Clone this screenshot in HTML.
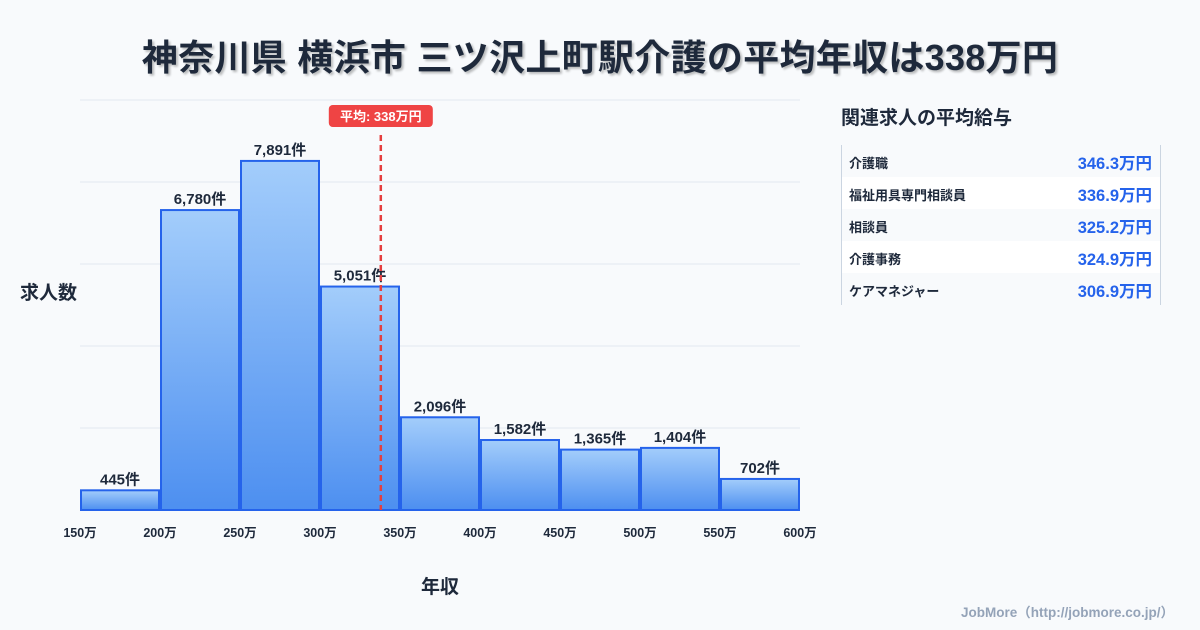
<!DOCTYPE html>
<html><head><meta charset="utf-8"><style>
body{margin:0;width:1200px;height:630px;background:#f8fafc;font-family:"Liberation Sans","Noto Sans CJK JP",sans-serif;color:#1e293b;overflow:hidden;position:relative}
.title{position:absolute;top:29px;left:0;width:1200px;text-align:center;font-size:36px;letter-spacing:0.3px;font-weight:bold;color:#1e293b;text-shadow:2px 2px 2px rgba(0,0,0,0.25)}
.side{position:absolute;left:841px;top:100px}
.side h3{margin:0;font-size:19px;font-weight:bold;position:absolute;top:3px;left:0;white-space:nowrap}
.tbl{position:absolute;left:841px;top:145px;width:318px;border-left:1px solid #cbd5e1;border-right:1px solid #cbd5e1}
.row{height:32px;display:flex;justify-content:space-between;align-items:center;padding:2px 8px 0 7px;box-sizing:border-box;font-size:13px;font-weight:bold}
.row:nth-child(even){background:#fff}
.row span:last-child{color:#2563eb;font-size:16.5px}
.foot{position:absolute;right:26px;top:601px;font-size:13.5px;color:#94a3b8;font-weight:bold}
</style></head><body>
<div class="title">神奈川県 横浜市 三ツ沢上町駅介護の平均年収は338万円</div>
<svg width="1200" height="630" style="position:absolute;left:0;top:0" id="chart">
<defs><linearGradient id="g" x1="0" y1="0" x2="0" y2="1"><stop offset="0" stop-color="#a3cdfb"/><stop offset="1" stop-color="#4d8ff0"/></linearGradient></defs>
<text x="20" y="299" font-size="19" font-weight="bold" fill="#1e293b">求人数</text>
<text x="440" y="593" font-size="19" font-weight="bold" fill="#1e293b" text-anchor="middle">年収</text>
</svg>
<div class="side"><h3>関連求人の平均給与</h3></div>
<div class="tbl">
<div class="row"><span>介護職</span><span>346.3万円</span></div>
<div class="row"><span>福祉用具専門相談員</span><span>336.9万円</span></div>
<div class="row"><span>相談員</span><span>325.2万円</span></div>
<div class="row"><span>介護事務</span><span>324.9万円</span></div>
<div class="row"><span>ケアマネジャー</span><span>306.9万円</span></div>
</div>
<div class="foot">JobMore（http://jobmore.co.jp/）</div>
<script>
const binStarts=[150,200,250,300,350,400,450,500,550];
const counts=[445,6780,7891,5051,2096,1582,1365,1404,702];
const tickLabels=["150万","200万","250万","300万","350万","400万","450万","500万","550万","600万"];
const tickValues=[150,200,250,300,350,400,450,500,550,600];
const meanValue=338;
const binWidth=50;
const NS="http://www.w3.org/2000/svg";
const svg=document.getElementById('chart');
const X0=80,X1=800,Y0=510,YTOP=100;
const xMin=150,xMax=600,yMax=9268;
const xs=v=>X0+(v-xMin)/(xMax-xMin)*(X1-X0);
const ys=v=>Y0-v/yMax*(Y0-YTOP);
function mk(tag,attrs){const e=document.createElementNS(NS,tag);for(const k in attrs)e.setAttribute(k,attrs[k]);svg.appendChild(e);return e;}
for(let i=0;i<=5;i++){const y=YTOP+i*(Y0-YTOP)/5;
const l=mk('line',{x1:X0,x2:X1,y1:y,y2:y,stroke:'#e2e8f0','stroke-width':1});

}
binStarts.forEach((b,i)=>{
const x=xs(b)+1,w=xs(b+binWidth)-xs(b)-2,y=ys(counts[i]);
const r=mk('rect',{x:x,y:y,width:w,height:Y0-y,fill:'url(#g)',stroke:'#2563eb','stroke-width':2});


const t=mk('text',{x:x+w/2,y:y-6,'text-anchor':'middle','font-size':15,'font-weight':'bold',fill:'#1e293b'});
t.textContent=counts[i].toLocaleString('en-US')+'件';


});
tickValues.forEach((v,i)=>{
const t=mk('text',{x:xs(v),y:537,'text-anchor':'middle','font-size':12.5,'font-weight':'bold',fill:'#1e293b'});
t.textContent=tickLabels[i];


});
const mx=xs(meanValue);
const ml=mk('line',{x1:mx,x2:mx,y1:135,y2:Y0,stroke:'#e53e3e','stroke-width':2.5,'stroke-dasharray':'6,4'});


const mb=mk('rect',{x:mx-52,y:105,width:104,height:22,rx:4,fill:'#ef4444'});


const mt=mk('text',{x:mx,y:121,'text-anchor':'middle','font-size':13,'font-weight':'bold',fill:'#fff'});
mt.textContent='平均: '+meanValue+'万円';


</script>
</body></html>
